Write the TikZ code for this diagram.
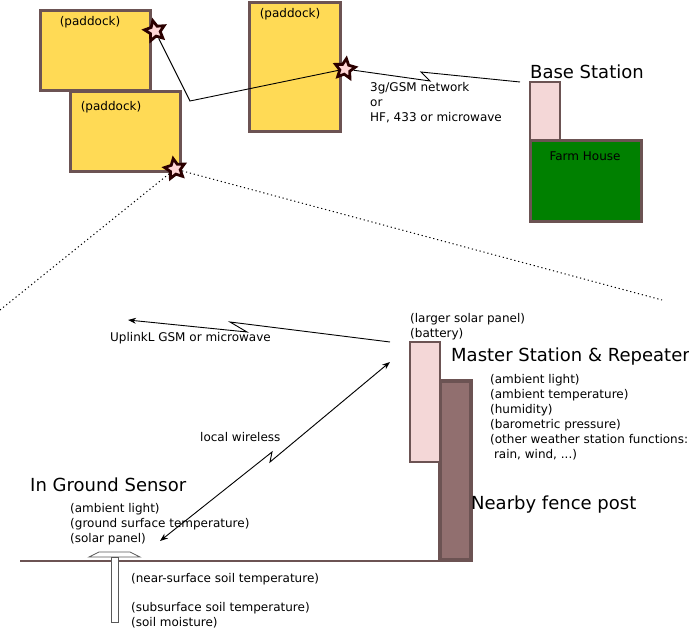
\documentclass[tikz,border=0pt]{standalone}
\usepackage{fontspec}
\setmainfont{DejaVu Sans}
\usepackage{tikz}
\usetikzlibrary{arrows.meta, shapes.geometric, positioning}

\definecolor{edgebrown}{HTML}{6C5353}
\definecolor{paddockfill}{HTML}{FFDA55}
\definecolor{stationpink}{HTML}{F4D7D7}
\definecolor{housegreen}{HTML}{008000}
\definecolor{postbrown}{HTML}{916F6F}
\definecolor{starpink}{HTML}{FFD5D5}
\definecolor{stardark}{HTML}{2B0000}

\begin{document}
\begin{tikzpicture}[x=1pt, y=-1pt,
    small/.style={font=\fontsize{12}{15}\selectfont, inner sep=0pt, align=left},
    big/.style={font=\fontsize{18}{21}\selectfont, inner sep=0pt},
    paddock/.style={rectangle, draw=edgebrown, line width=3pt, fill=paddockfill, inner sep=0pt},
    station/.style={rectangle, draw=edgebrown, line width=2.5pt, fill=stationpink, inner sep=0pt},
    starnode/.style={star, star points=5, star point ratio=2.0, minimum size=21pt, inner sep=0pt,
        draw=stardark, line width=2.8pt, fill=starpink},
    link/.style={line width=0.9pt},
    arrowtip/.style={-{Stealth[length=8pt, width=6pt]}}]
\useasboundingbox (0,0) rectangle (689,628);

% paddocks
\node[paddock, minimum width=110pt, minimum height=80pt] (pad1) at (95,51) {};
\node[paddock, minimum width=110pt, minimum height=80pt] (pad2) at (125,132) {};
\node[paddock, minimum width=91pt, minimum height=129pt] (pad3) at (294.5,67.5) {};
\node[small, anchor=north] at (90,16) {(paddock)};
\node[small, anchor=north] at (111,101) {(paddock)};
\node[small, anchor=north] at (290,8) {(paddock)};

% farm
\node[station, minimum width=30pt, minimum height=59pt] (base) at (545,111.5) {};
\node[rectangle, draw=edgebrown, line width=3pt, fill=housegreen, minimum width=111pt,
    minimum height=81pt] (house) at (585.5,181.5) {};
\node[small, anchor=north] at (585,152) {Farm House};
\node[big, anchor=west] at (530,72) {Base Station};

% sensor nodes
\node[starnode, rotate=12] (s1) at (155,31) {};
\node[starnode, rotate=-8] (s2) at (345,69) {};
\node[starnode, rotate=10] (s3) at (175,169) {};

\coordinate (bend) at (190,101);
\draw[link] (s1) -- (bend) -- (s2);

\coordinate (z1) at (430,81);
\coordinate (z2) at (421,72);
\coordinate (bsend) at (520,82);
\draw[link] (s2) -- (z1) -- (z2) -- (bsend);
\node[small, anchor=north west] at (370,82) {3g/GSM network\\or\\HF, 433 or microwave};

% zoom lines
\coordinate (zoomL) at (0,310);
\coordinate (zoomR) at (662,300);
\draw[line width=1pt, dash pattern=on 1.2pt off 2.8pt] (zoomL) -- (s3) -- (zoomR);

% master station
\draw[edgebrown, line width=2.5pt] (20,561) -- (440,561);
\node[rectangle, draw=edgebrown, line width=3.5pt, fill=postbrown, minimum width=31pt,
    minimum height=179pt, inner sep=0pt] (post) at (455.5,470.5) {};
\node[station, minimum width=30pt, minimum height=120pt] (master) at (425,402) {};
\node[small, anchor=north west] at (410,313) {(larger solar panel)\\(battery)};
\node[big, anchor=west] at (451,357) {Master Station \& Repeater};
\node[small, anchor=north west] at (490,374) {(ambient light)\\(ambient temperature)\\(humidity)\\(barometric pressure)\\(other weather station functions:\\\ rain, wind, ...)};
\node[big, anchor=west] at (471,505) {Nearby fence post};

% uplink
\coordinate (upA) at (390,342);
\coordinate (upB) at (230,322);
\coordinate (upC) at (247,332);
\coordinate (upEnd) at (128,320);
\draw[link, arrowtip] (upA) -- (upB) -- (upC) -- (upEnd);
\node[small, anchor=north west] at (110,332) {UplinkL GSM or microwave};

% local wireless
\coordinate (lwA) at (390,362);
\coordinate (lwB) at (270,462);
\coordinate (lwC) at (272,452);
\coordinate (lwEnd) at (160,541);
\draw[link, {Stealth[length=8pt, width=6pt]}-{Stealth[length=8pt, width=6pt]}] (lwA) -- (lwB) -- (lwC) -- (lwEnd);
\node[small, anchor=north west] at (200,432) {local wireless};

% in ground sensor
\draw[gray!70!black, line width=0.8pt, fill=white] (111,557) rectangle (118,622);
\draw[gray!70!black, line width=0.8pt, fill=white] (89,557) -- (99,552) -- (130,552) -- (140,557) -- cycle;
\node[big, anchor=west] at (30,485) {In Ground Sensor};
\node[small, anchor=north west] at (70,503) {(ambient light)\\(ground surface temperature)\\(solar panel)};
\node[small, anchor=north west] at (131,573) {(near-surface soil temperature)};
\node[small, anchor=north west] at (131,602) {(subsurface soil temperature)\\(soil moisture)};
\end{tikzpicture}
\end{document}
